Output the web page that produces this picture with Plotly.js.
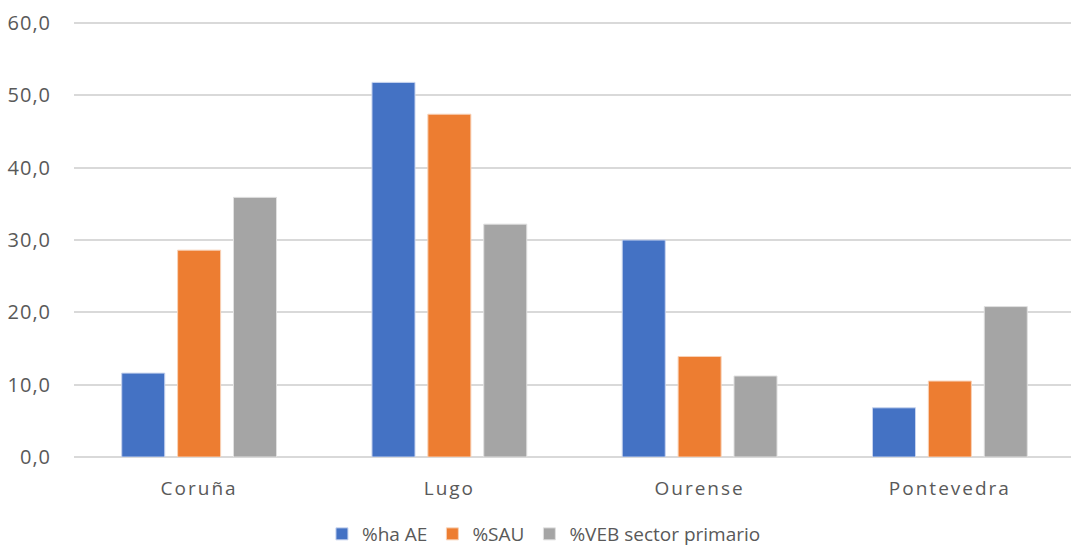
<!DOCTYPE html>
<html>
<head>
<meta charset="utf-8">
<script src="https://cdn.plot.ly/plotly-3.0.1.min.js"></script>
<style>
html,body{margin:0;padding:0;background:#fff;overflow:hidden;}
#chart{width:1075px;height:553px;}
.xtick text{letter-spacing:2px;}
.ytick text{letter-spacing:1px;}
</style>
</head>
<body>
<div id="chart"></div>
<script>
const categories = ["Coruña", "Lugo", "Ourense", "Pontevedra"];
const seriesNames = ["%ha AE", "%SAU", "%VEB sector primario"];
const haAE = [11.6, 51.8, 30.0, 6.8];
const sau = [28.6, 47.4, 13.9, 10.5];
const veb = [35.9, 32.2, 11.2, 20.8];
const colors = ["#4472C4", "#ED7D31", "#A5A5A5"];
const lineColors = ["#c7d3ee", "#f8d2b8", "#e0e0e0"];
const yTicks = [0, 10, 20, 30, 40, 50, 60];

const values = [haAE, sau, veb];
const traces = values.map((v, i) => ({
  type: "bar",
  name: seriesNames[i],
  x: categories,
  y: v,
  marker: {color: colors[i], line: {color: lineColors[i], width: 1}},
  hoverinfo: "x+y+name"
}));

const fam = "Open Sans, Liberation Sans, sans-serif";
const txt = "#595959";

const layout = {
  width: 1075,
  height: 553,
  margin: {l: 74, r: 0, t: 22, b: 96},
  paper_bgcolor: "#ffffff",
  plot_bgcolor: "#ffffff",
  font: {family: fam, size: 19, color: txt},
  separators: ",.",
  barmode: "group",
  bargap: 0.33,
  bargroupgap: 0.23,
  showlegend: true,
  legend: {
    orientation: "h",
    xref: "container",
    yref: "container",
    x: 0.506,
    xanchor: "center",
    y: 0.0,
    yanchor: "bottom",
    font: {family: fam, size: 19, color: txt},
    itemwidth: 30,
    tracegroupgap: 0
  },
  xaxis: {
    type: "category",
    showgrid: false,
    showline: false,
    zeroline: false,
    ticks: "",
    tickfont: {family: fam, size: 19, color: txt},
    ticklabelstandoff: 18
  },
  yaxis: {
    range: [0, 60.15],
    tickvals: yTicks,
    tickformat: ".1f",
    showgrid: true,
    gridcolor: "#d9d9d9",
    gridwidth: 2,
    zeroline: true,
    zerolinecolor: "#d9d9d9",
    zerolinewidth: 2,
    showline: false,
    ticks: "",
    tickfont: {family: fam, size: 20, color: txt},
    ticklabelstandoff: 22
  }
};

Plotly.newPlot("chart", traces, layout, {displayModeBar: false, staticPlot: true});
</script>
</body>
</html>
